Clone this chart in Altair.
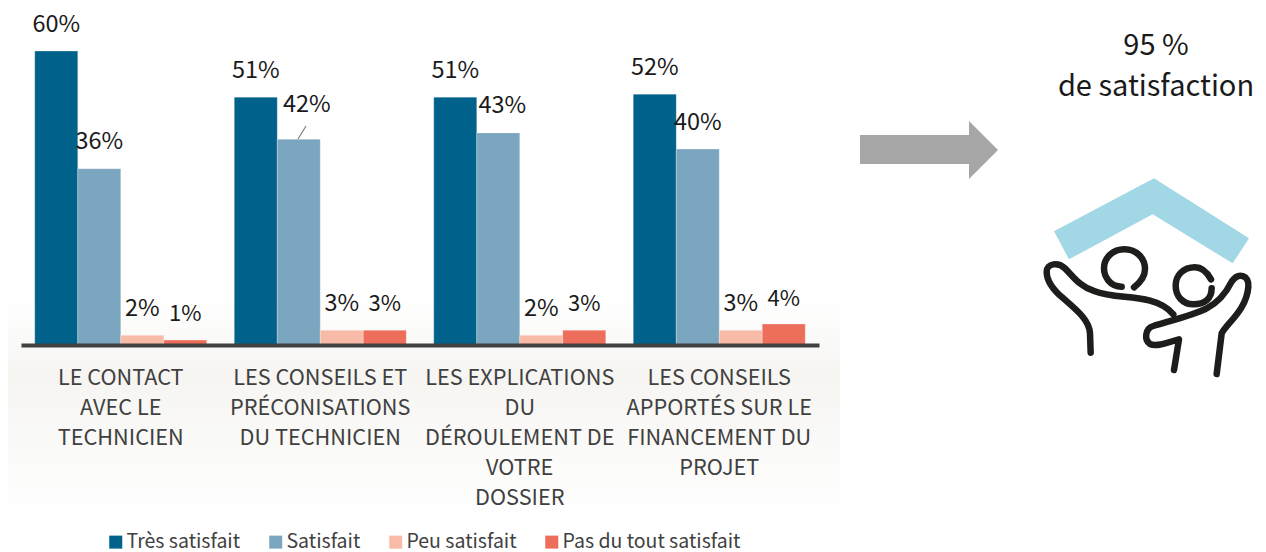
import altair as alt
import pandas as pd

categories = ["LE CONTACT|AVEC LE|TECHNICIEN",
              "LES CONSEILS ET|PRÉCONISATIONS|DU TECHNICIEN",
              "LES EXPLICATIONS|DU|DÉROULEMENT DE|VOTRE|DOSSIER",
              "LES CONSEILS|APPORTÉS SUR LE|FINANCEMENT DU|PROJET"]
series = ["Très satisfait", "Satisfait", "Peu satisfait", "Pas du tout satisfait"]
colors = ["#00628b", "#7ba6bf", "#f7bba8", "#ec6e5b"]
values = {
    "Très satisfait": [60, 50.6, 50.6, 51.2],
    "Satisfait": [36, 42, 43.3, 40],
    "Peu satisfait": [2, 3, 2, 3],
    "Pas du tout satisfait": [1, 3, 3, 4.3],
}
labels = {
    "Très satisfait": ["60%", "51%", "51%", "52%"],
    "Satisfait": ["36%", "42%", "43%", "40%"],
    "Peu satisfait": ["2%", "3%", "2%", "3%"],
    "Pas du tout satisfait": ["1%", "3%", "3%", "4%"],
}
FONT = "Noto Sans CJK SC"
rows = [{"cat": c, "series": s, "v": values[s][i], "label": labels[s][i]}
        for s in series for i, c in enumerate(categories)]
df = pd.DataFrame(rows)
one = pd.DataFrame({"k": [0]})

# plot origin is at page (21, 8)
PX, PY = 21, 8
W, H = 798, 337


def px(x):
    return alt.value(x - PX)


def py(y):
    return alt.value(y - PY)


x_enc = alt.X("cat:N", sort=categories, title=None,
              scale=alt.Scale(domain=categories, paddingInner=0.138, paddingOuter=0.069),
              axis=alt.Axis(labelExpr="split(datum.value, '|')", labelAngle=0, labelFontSize=21.7,
                            labelFont=FONT, labelColor="#404040", labelLineHeight=30,
                            labelPadding=22, labelLimit=400, ticks=False, domainColor="#404040",
                            domainWidth=4, grid=False, zindex=1))
xo_enc = alt.XOffset("series:N", sort=series, scale=alt.Scale(domain=series, paddingInner=0, paddingOuter=0))
y_enc = alt.Y("v:Q", title=None, scale=alt.Scale(domain=[0, 68.8], nice=False), axis=None)

background = alt.Chart(one).mark_rect(
    color=alt.Gradient(gradient="linear", x1=0, x2=0, y1=0, y2=1,
                       stops=[alt.GradientStop(color="#ffffff", offset=0),
                              alt.GradientStop(color="#f6f5f2", offset=0.35),
                              alt.GradientStop(color="#ffffff", offset=1)])
).encode(x=px(8), x2=px(840), y=py(298), y2=py(522))

bars = alt.Chart(df).mark_bar(stroke="#ffffff", strokeWidth=0.5, strokeOpacity=0.5).encode(
    x=x_enc, xOffset=xo_enc, y=y_enc,
    color=alt.Color("series:N", sort=series, title=None,
                    scale=alt.Scale(domain=series, range=colors),
                    legend=alt.Legend(orient="none", direction="horizontal", legendX=85, legendY=524,
                                      symbolType="square", symbolSize=169, symbolStrokeWidth=0,
                                      labelFont=FONT, labelFontSize=19.5, labelColor="#404040",
                                      labelOffset=1, columnPadding=25, padding=0, labelLimit=400)),
)


def text_layer(flt, size, dx=0, dy=-26.5):
    return alt.Chart(df).transform_filter(flt).mark_text(
        font=FONT, fontSize=size, color="#1a1a1a", align="center", baseline="middle", dx=dx, dy=dy
    ).encode(x=alt.X("cat:N", sort=categories), xOffset=alt.XOffset("series:N", sort=series), y=alt.Y("v:Q"),
             text="label:N")


is42 = "datum.label === '42%'"
is43 = "datum.label === '43%'"
is4 = "datum.label === '4%'"
small = "datum.series === 'Pas du tout satisfait'"
t_main = text_layer(f"!({is42}) && !({is43}) && !({small})", 23.5)
t_small = text_layer(f"({small}) && !({is4})", 22)
t_4 = text_layer(is4, 22, dy=-25)
t_42 = text_layer(is42, 23.5, dx=8, dy=-34)
t_43 = text_layer(is43, 23.5, dx=4)

leader = alt.Chart(one).mark_rule(color="#7f7f7f", strokeWidth=1.2).encode(
    x=px(298), x2=px(306), y=py(139), y2=py(126))

arrow_path = "M860,135 L969,135 L969,121 L998,150 L969,179 L969,164 L860,164 Z"
arrow = alt.Chart(one).mark_point(shape=arrow_path, size=4, filled=True, color="#a6a6a6", opacity=1, strokeWidth=0).encode(
    x=alt.value(-PX), y=alt.value(-PY))

roof_path = "M372,25 L657,205 L608,280 L368,133 L117,268 L72,184 Z"
roof = alt.Chart(one).mark_point(shape=roof_path, size=4 / 9, filled=True, color="#a2d7e6", opacity=1, strokeWidth=0).encode(
    x=px(1030), y=py(170))

figure_paths = [
    "M182,548 L180,490 C178,450 140,420 100,385 C70,360 50,330 50,305 C50,280 85,275 105,295 C130,320 150,350 190,362 C250,385 300,375 360,392 C390,400 415,415 430,433",
    "M275,350 C240,350 222,320 222,295 C222,262 250,238 283,238 C320,238 345,265 345,297 C345,320 330,338 312,352",
    "M543,328 C530,305 515,292 495,292 C460,292 437,315 437,347 C437,380 460,403 490,403 C525,403 545,385 545,355",
    "M560,612 L575,490 C590,460 650,420 655,350 C658,315 625,305 605,335 C590,365 570,395 530,415 C490,435 430,450 370,468 C345,475 342,510 360,522 C380,532 420,515 447,508 L432,600",
]
figures = [
    alt.Chart(one).mark_point(shape=p, size=4 / 9, filled=False, stroke="#1d1d1b", strokeWidth=6.5,
                              strokeCap="round", strokeJoin="round", opacity=1).encode(x=px(1030), y=py(170))
    for p in figure_paths
]

side_text = [("95 %", 46), ("de satisfaction", 87)]
side = [
    alt.Chart(one).mark_text(text=t, font=FONT, fontSize=29, color="#1a1a1a", align="center", baseline="middle").encode(
        x=px(1156), y=py(y))
    for t, y in side_text
]

chart = alt.layer(background, bars, t_main, t_small, t_4, t_42, t_43, leader, arrow, roof, *figures, *side).properties(
    width=W, height=H,
    padding={"left": PX - 8, "top": 0, "right": 1250 - W - (PX - 8), "bottom": 207},
    autosize=alt.AutoSizeParams(type="none"),
    background="#ffffff",
).configure_view(stroke=None)

chart.save("out.html", embed_options={"renderer": "svg", "actions": False})
